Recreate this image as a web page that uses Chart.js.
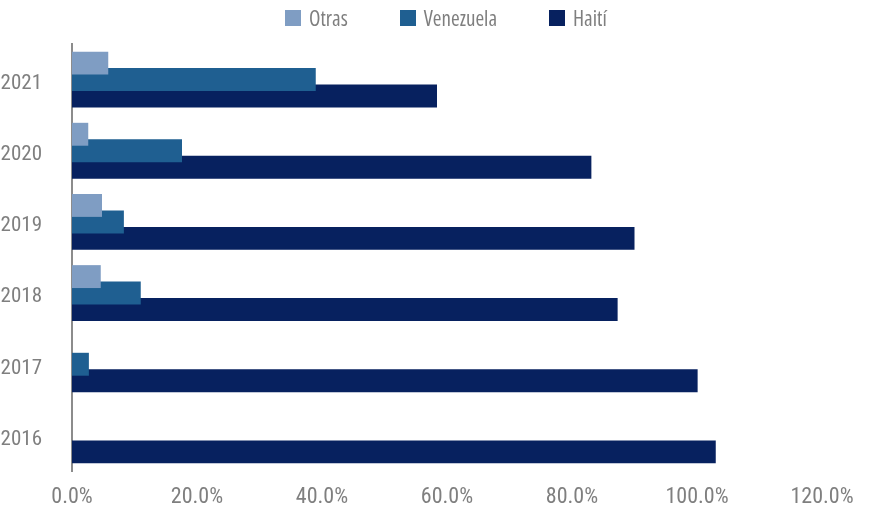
<!DOCTYPE html>
<html>
<head>
<meta charset="utf-8">
<script src="https://cdn.jsdelivr.net/npm/chart.js@4.4.1/dist/chart.umd.min.js"></script>
<style>
  body { margin: 0; background: #fff; }
  #wrap { position: relative; width: 877px; height: 522px; }
  #legend { position: absolute; top: 7px; left: 285px; display: flex; gap: 52px;
            font-family: "Open Sans", sans-serif; font-stretch: condensed;
            font-size: 21px; color: #7f7f7f; }
  #legend span.item { display: flex; align-items: center; height: 22px; }
  #legend i { display: inline-block; width: 16px; height: 16px; margin-right: 8px; }
</style>
</head>
<body>
<div id="wrap">
  <canvas id="chart" width="877" height="522"></canvas>
  <div id="legend"></div>
</div>
<script>
// años, de arriba hacia abajo
const years = ['2021', '2020', '2019', '2018', '2017', '2016'];

// porcentajes
const otras = [5.8, 2.6, 4.8, 4.6, 0, 0];
const venezuela = [39.0, 17.6, 8.3, 11.0, 2.7, 0];
const haiti = [58.4, 83.1, 90.0, 87.3, 100.1, 103.0];

const xTicks = [0, 20, 40, 60, 80, 100, 120];

const colors = { otras: '#7f9dc3', venezuela: '#1f5f91', haiti: '#07215f' };

const gray = '#7f7f7f';
const font = '"Roboto Condensed", "Open Sans", sans-serif';

const datasets = [
  { label: 'Otras', data: otras, backgroundColor: colors.otras },
  { label: 'Venezuela', data: venezuela, backgroundColor: colors.venezuela },
  { label: 'Haití', data: haiti, backgroundColor: colors.haiti }
];

// leyenda en html
const legend = document.getElementById('legend');
datasets.forEach(ds => {
  const item = document.createElement('span');
  item.className = 'item';
  item.innerHTML = '<i style="background:' + ds.backgroundColor + '"></i>' + ds.label;
  legend.appendChild(item);
});

new Chart(document.getElementById('chart').getContext('2d'), {
  type: 'bar',
  data: { labels: years, datasets: datasets },
  options: {
    indexAxis: 'y',
    responsive: false,
    animation: false,
    categoryPercentage: 0.695,
    barPercentage: 1.39,
    layout: { padding: { top: 44, right: 55, left: 0, bottom: 0 } },
    scales: {
      x: {
        min: 0,
        max: 120,
        afterBuildTicks: scale => { scale.ticks = xTicks.map(v => ({ value: v })); },
        grid: { display: false, drawTicks: false },
        border: { display: false },
        ticks: {
          color: gray,
          padding: 13,
          font: { family: font, size: 22 },
          callback: v => v.toFixed(1) + '%'
        },
        afterFit: scale => { scale.height = 51; }
      },
      y: {
        grid: { display: false, drawTicks: false },
        border: { display: true, color: '#8c8c8c', width: 2 },
        ticks: {
          color: gray,
          padding: 30,
          labelOffset: 4,
          font: { family: font, size: 21 }
        },
        afterFit: scale => { scale.width = 72; }
      }
    },
    plugins: {
      legend: { display: false },
      tooltip: { enabled: false }
    }
  }
});
</script>
</body>
</html>
